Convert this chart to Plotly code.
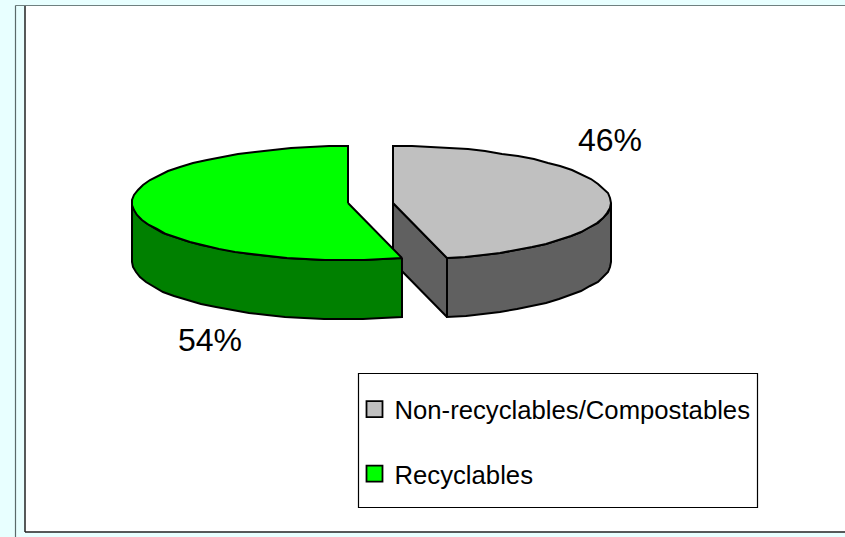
import numpy as np
import plotly.graph_objects as go

labels = ["Non-recyclables/Compostables", "Recyclables"]
values = [46, 54]
top_colors = ["#C0C0C0", "#00FF00"]
side_colors = ["#606060", "#008000"]
apex_x = [393, 348]
radius_x = [218, 216]
label_pos = [(610, 140), (210, 340)]

CY, RY, DEPTH = 203, 57, 59
FONT = "Liberation Sans, Arial, sans-serif"


def arc(i, a0, a1, step=5.0):
    n = max(2, int(abs(a1 - a0) / step) + 1)
    a = np.radians(np.linspace(a0, a1, n))
    # rounding to whole pixels gives the slightly jagged outline of the original
    return np.round(apex_x[i] + radius_x[i] * np.sin(a)), np.round(CY - RY * np.cos(a))


fig = go.Figure()


def poly(x, y, color):
    fig.add_trace(go.Scatter(
        x=list(x) + [x[0]], y=list(y) + [y[0]], mode="lines", fill="toself",
        fillcolor=color, line=dict(color="black", width=2), showlegend=False,
        hoverinfo="skip",
    ))


total = sum(values)
angles = np.cumsum([0] + values) / total * 360
a0s, a1s = angles[:-1], angles[1:]

# non-recyclables slice (behind the green tip)
i = 0
ex, ey = arc(i, a1s[i], a1s[i])
ex, ey = ex[0], ey[0]
poly([apex_x[i], ex, ex, apex_x[i]], [CY, ey, ey + DEPTH, CY + DEPTH], side_colors[i])
sx, sy = arc(i, 90, a1s[i])
poly(list(sx) + list(sx[::-1]), list(sy) + list(sy[::-1] + DEPTH), side_colors[i])
tx, ty = arc(i, a0s[i], a1s[i])
poly([apex_x[i]] + list(tx), [CY] + list(ty), top_colors[i])

# recyclables slice
i = 1
bx, by = arc(i, a0s[i], 270)
poly(list(bx) + list(bx[::-1]), list(by) + list(by[::-1] + DEPTH), side_colors[i])
tx, ty = arc(i, a0s[i], a1s[i])
poly([apex_x[i]] + list(tx), [CY] + list(ty), top_colors[i])

# legend entries
for name, color in zip(labels, top_colors):
    fig.add_trace(go.Scatter(
        x=[None], y=[None], mode="markers", name=name, legendgroup=name,
        marker=dict(symbol="square", size=16, color=color, line=dict(color="black", width=1.8)),
    ))

annotations = [
    dict(x=p[0], y=p[1], xref="x", yref="y", text=f"{v}%", showarrow=False,
         font=dict(family=FONT, size=32, color="black"))
    for v, p in zip(values, label_pos)
]

shapes = [
    dict(type="rect", x0=25, y0=6, x1=846, y1=532, fillcolor="white", layer="below",
         line=dict(width=0)),
    dict(type="line", x0=15.5, y0=5.5, x1=846, y1=5.5, layer="below", line=dict(color="#6f8080", width=1.2)),
    dict(type="line", x0=15.5, y0=5.5, x1=15.5, y1=537, layer="below", line=dict(color="#5a6a6a", width=1.2)),
    dict(type="line", x0=25, y0=6, x1=25, y1=532, layer="below", line=dict(color="#222222", width=1.5)),
    dict(type="line", x0=25, y0=532, x1=846, y1=532, layer="below", line=dict(color="#222222", width=1.5)),
    dict(type="rect", x0=358.5, y0=373.5, x1=757.5, y1=507.5, layer="below",
         fillcolor="white", line=dict(color="black", width=1.2)),
]

fig.update_layout(
    width=845, height=537, margin=dict(l=0, r=0, t=0, b=0),
    paper_bgcolor="#E8FFFF", plot_bgcolor="rgba(0,0,0,0)",
    xaxis=dict(range=[0, 845], visible=False, fixedrange=True),
    yaxis=dict(range=[537, 0], visible=False, fixedrange=True),
    shapes=shapes, annotations=annotations,
    legend=dict(x=354.5 / 845, y=1 - 386 / 537, xanchor="left", yanchor="top",
                bgcolor="rgba(0,0,0,0)", borderwidth=0, tracegroupgap=28,
                font=dict(family=FONT, size=25.7, color="black"), itemclick=False, itemdoubleclick=False),
)

fig.write_html(
    "out.html", config=dict(displayModeBar=False),
    post_script="document.body.style.margin='0';document.body.style.overflow='hidden';"
                "document.documentElement.style.background='#E8FFFF';",
)
